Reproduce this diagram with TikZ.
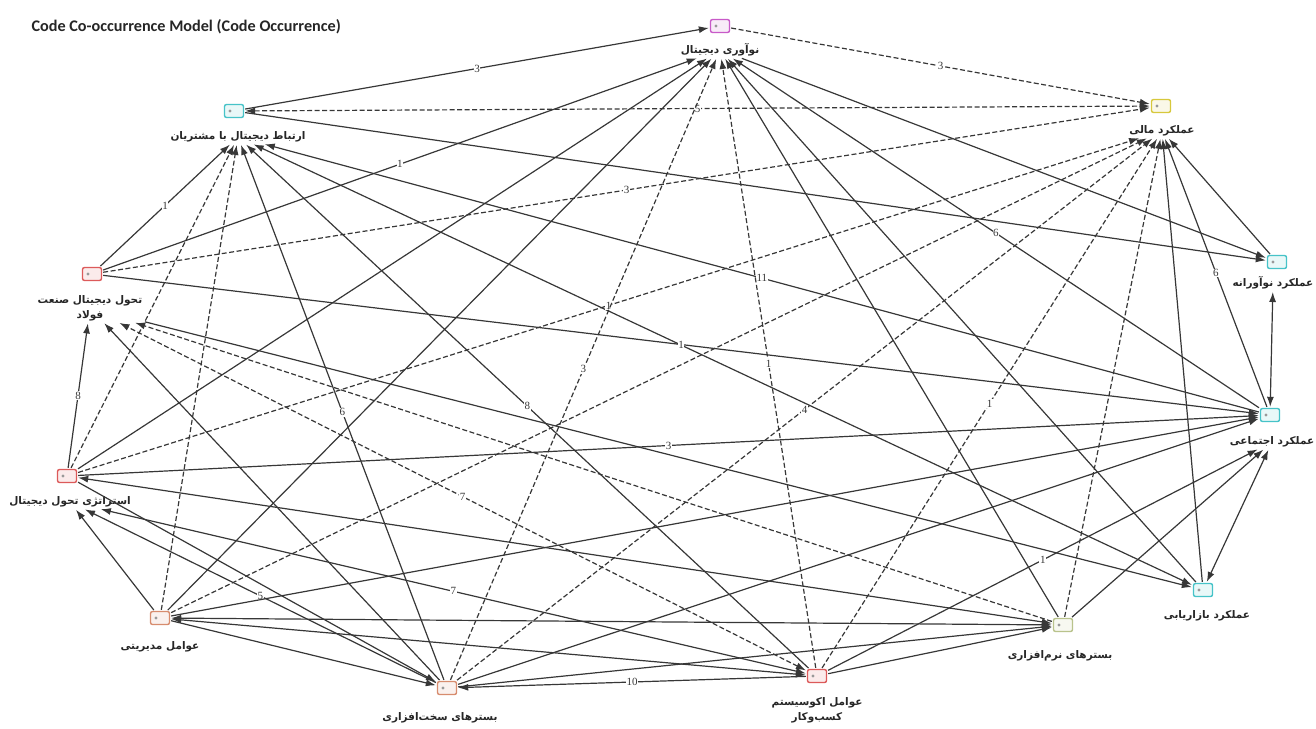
\documentclass[tikz,border=0pt]{standalone}
\usepackage{fontspec}
\setmainfont{Liberation Serif}
\newfontfamily\fa[Script=Arabic]{DejaVu Sans}
\newfontfamily\ttl{Carlito}
\TeXXeTstate=1
\usetikzlibrary{arrows.meta}
\definecolor{edgec}{RGB}{55,55,55}
\definecolor{cmag}{RGB}{200,90,200}
\definecolor{ccyan}{RGB}{70,195,200}
\definecolor{cyel}{RGB}{215,200,60}
\definecolor{colive}{RGB}{185,195,140}
\definecolor{cred}{RGB}{220,90,90}
\definecolor{csalm}{RGB}{215,140,110}
\begin{document}
\begin{tikzpicture}[x=1pt,y=-1pt,
  >={Latex[length=10pt,width=7pt]},
  ic/.style={draw=#1, fill=#1!12, line width=1.4pt, rounded corners=2pt, minimum width=19pt, minimum height=13pt, inner sep=0pt},
  lb/.style={font=\fa\bfseries\fontsize{10.5}{15}\selectfont, text=black!85, inner sep=1.5pt, align=center},
  e/.style={draw=edgec, line width=1.2pt, shorten >=1pt, shorten <=1pt},
  dsh/.style={dash pattern=on 5pt off 2.5pt},
  num/.style={font=\fontsize{11}{11}\selectfont, fill=white, inner sep=0.6pt, text=edgec}]
\useasboundingbox (0,0) rectangle (1316,728);
\node[anchor=west, font=\ttl\bfseries\fontsize{16.2}{18}\selectfont, text=black!85] (title) at (28,27) {Code Co-occurrence Model (Code Occurrence)};
% icons
\node[ic=cmag]   (DI)    at (720,26)  {};
\node[ic=ccyan]  (DCC)   at (234,111) {};
\node[ic=cyel]   (FP)    at (1161,106){};
\node[ic=ccyan]  (IP)    at (1277,262){};
\node[ic=ccyan]  (SP)    at (1270,415){};
\node[ic=ccyan]  (MP)    at (1203,590){};
\node[ic=colive] (SW)    at (1063,625){};
\node[ic=cred]   (ECO)   at (817,676) {};
\node[ic=csalm]  (HW)    at (447,688) {};
\node[ic=csalm]  (MG)    at (160,618) {};
\node[ic=cred]   (STR)   at (67,476)  {};
\node[ic=cred]   (STEEL) at (92,274)  {};
\foreach \n in {DI,DCC,FP,IP,SP,MP,SW,ECO,HW,MG,STR,STEEL}{
  \fill[black!40] ([xshift=-4pt]\n.center) circle (1.7pt);}
% labels
\node[lb] (DIl)    at (720,50)  {\beginR نوآوری دیجیتال\endR};
\node[lb] (DCCl)   at (238,137) {\beginR ارتباط دیجیتال با مشتریان\endR};
\node[lb] (FPl)    at (1162,131){\beginR عملکرد مالی\endR};
\node[lb] (IPl)    at (1273,283){\beginR عملکرد نوآورانه\endR};
\node[lb] (SPl)    at (1272,442){\beginR عملکرد اجتماعی\endR};
\node[lb] (MPl)    at (1207,616){\beginR عملکرد بازاریابی\endR};
\node[lb] (SWl)    at (1060,656){\beginR بسترهای نرم‌افزاری\endR};
\node[lb] (ECOl)   at (817,710) {\beginR عوامل اکوسیستم\endR\\\beginR کسب‌وکار\endR};
\node[lb] (HWl)    at (440,718) {\beginR بسترهای سخت‌افزاری\endR};
\node[lb] (MGl)    at (160,647) {\beginR عوامل مدیریتی\endR};
\node[lb] (STRl)   at (70,502)  {\beginR استراتژی تحول دیجیتال\endR};
\node[lb] (STEELl) at (90,308)  {\beginR تحول دیجیتال صنعت\endR\\\beginR فولاد\endR};
% edges
\draw[e,->] (DCC) -- node[num]{3} (DI);
\draw[e,dsh,<->] (DCC) -- node[num]{5} (FP);
\draw[e,dsh,->] (DI) -- node[num]{3} (FP);
\draw[e,->] (STEEL) -- node[num]{1} (DIl);
\draw[e,->] (STEEL) -- node[num]{1} (DCCl);
\draw[e,dsh,->] (STR) -- (DCCl);
\draw[e,dsh,->] (MG) -- (DCCl);
\draw[e,->] (HW) -- node[num]{6} (DCCl);
\draw[e,->] (ECO) -- node[num]{8} (DCCl);
\draw[e,<->] (MP) -- (DCCl);
\draw[e,->] (SP) -- node[num]{11} (DCCl);
\draw[e,->] (DCC) -- (IP);
\draw[e,dsh,->] (STEEL) -- node[num]{3} (FP);
\draw[e,->] (STEEL) -- node[num]{1} (SP);
\draw[e,dsh,->] (SW) -- (STEELl);
\draw[e,dsh,<->] (ECO) -- node[num]{7} (STEELl);
\draw[e,->] (HW) -- (STEELl);
\draw[e,->] (STR) -- node[num]{8} (STEELl);
\draw[e,->] (STR) -- (DIl);
\draw[e,dsh,->] (STR) -- node[num]{1} (FPl);
\draw[e,->] (STR) -- node[num]{3} (SP);
\draw[e,<->] (STR) -- (SW);
\draw[e,<->] (ECO) -- node[num]{7} (STRl);
\draw[e,->] (HW) -- node[num]{5} (STRl);
\draw[e,->] (MG) -- (STRl);
\draw[e,->] (MG) -- (DIl);
\draw[e,dsh,->] (MG) -- (FPl);
\draw[e,->] (MG) -- (SP);
\draw[e,<->] (SW) -- (MG);
\draw[e,<->] (ECO) -- (MG);
\draw[e,->] (MG) -- (HW);
\draw[e,->] (STR) -- (HW);
\draw[e,dsh,->] (HW) -- node[num]{3} (DIl);
\draw[e,dsh,->] (HW) -- node[num]{4} (FPl);
\draw[e,->] (HW) -- (SP);
\draw[e,->] (ECO) -- node[num]{10} (HW);
\draw[e,->] (HW) -- (SW);
\draw[e,dsh,->] (ECO) -- node[num]{1} (DIl);
\draw[e,dsh,->] (ECO) -- node[num]{1} (FPl);
\draw[e,->] (ECO) -- (SW);
\draw[e,->] (ECO) -- node[num]{1} (SPl);
\draw[e,->] (SW) -- (DIl);
\draw[e,->] (MP) -- (DIl);
\draw[e,->] (SP) -- node[num]{6} (DIl);
\draw[e,->] (DIl) -- (IP);
\draw[e,dsh,->] (SW) -- (FPl);
\draw[e,->] (SW) -- (SPl);
\draw[e,->] (MP) -- (FPl);
\draw[e,->] (SP) -- node[num]{6} (FPl);
\draw[e,->] (IP) -- (FPl);
\draw[e,<->] (IPl) -- (SP);
\draw[e,<->] (MP) -- (SPl);
\draw[e,->] (STEELl) -- (MP);
\end{tikzpicture}
\end{document}
